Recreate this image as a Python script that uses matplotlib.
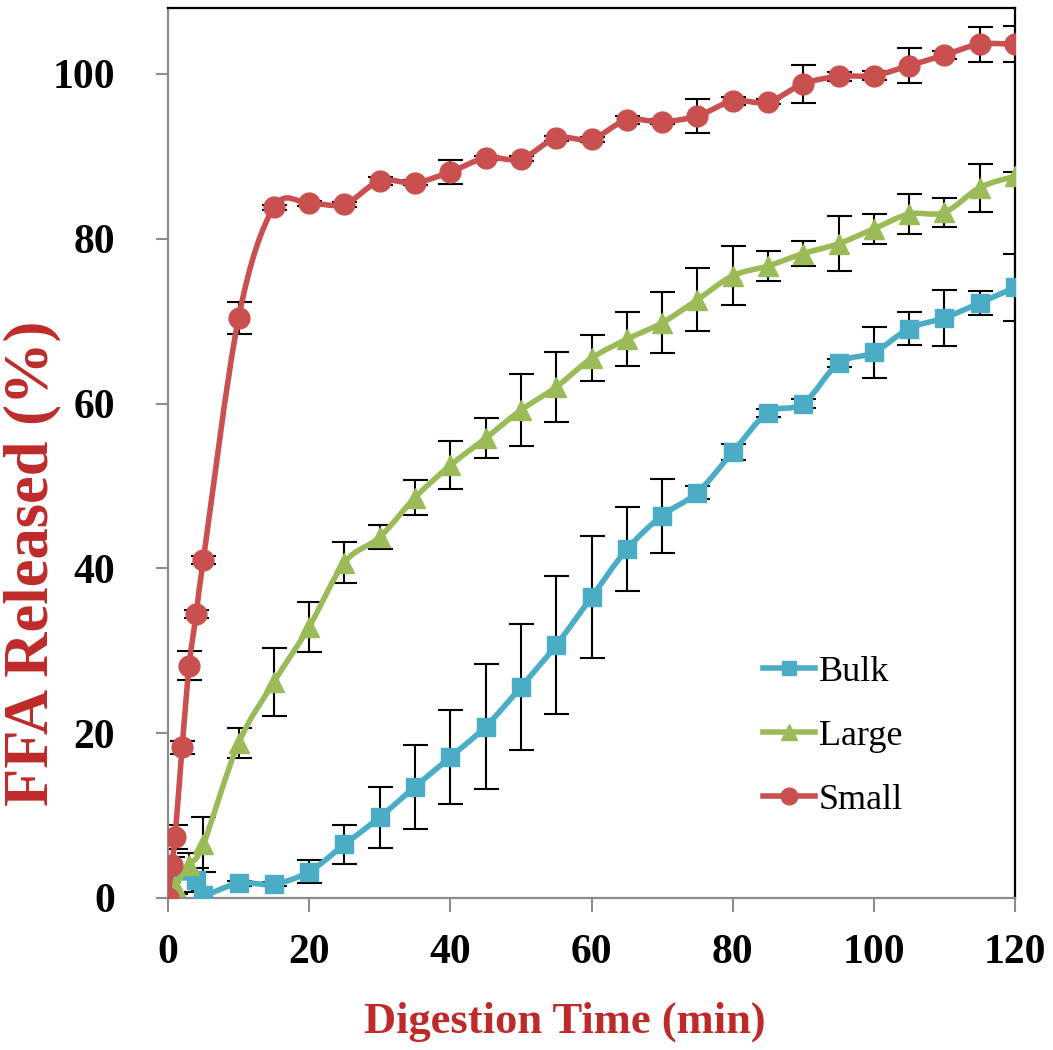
import numpy as np
import matplotlib
matplotlib.use("Agg")
import matplotlib.pyplot as plt
from matplotlib.path import Path
from matplotlib.patches import PathPatch
from matplotlib.lines import Line2D

# digestion times (min)
t_small = [0, 0.5, 1, 2, 3, 4, 5, 10, 15, 20, 25, 30, 35, 40, 45, 50, 55, 60,
           65, 70, 75, 80, 85, 90, 95, 100, 105, 110, 115, 120]
t_large = [0, 1, 3, 5, 10, 15, 20, 25, 30, 35, 40, 45, 50, 55, 60,
           65, 70, 75, 80, 85, 90, 95, 100, 105, 110, 115, 120]
t_bulk = [0, 4, 5, 10, 15, 20, 25, 30, 35, 40, 45, 50, 55, 60,
          65, 70, 75, 80, 85, 90, 95, 100, 105, 110, 115, 120]

# FFA released (%)
small = [0, 4, 7.4, 18.3, 28.2, 34.5, 41, 70.4, 83.8, 84.3, 84.2, 87, 86.8, 88.1,
         89.8, 89.7, 92.2, 92.1, 94.4, 94.2, 94.9, 96.7, 96.6, 98.8, 99.7, 99.8,
         101, 102.3, 103.6, 103.6]
small_err = [0, 1, 1.5, 0.8, 1.8, 0.5, 0.5, 1.9, 0.3, 0.3, 0.3, 0.5, 0.3, 1.5,
             0.3, 0.3, 0.3, 0.3, 0.5, 0.3, 2.1, 0.5, 0.3, 2.3, 0.5, 0.5,
             2.1, 0.5, 2.1, 2.2]
large = [0, 1.5, 4, 6.5, 18.8, 26.2, 32.9, 40.7, 43.8, 48.6, 52.5, 55.8, 59.2, 62,
         65.5, 67.8, 69.8, 72.6, 75.5, 76.7, 78.2, 79.4, 81.2, 83, 83.2, 86.2, 87.6]
large_err = [0, 1, 1.5, 3.3, 1.8, 4.1, 3, 2.5, 1.5, 2.1, 2.9, 2.4, 4.4, 4.2,
             2.8, 3.3, 3.7, 3.8, 3.6, 1.8, 1.5, 3.3, 1.8, 2.4, 1.8, 2.9, 0.5]
bulk = [2.5, 2.2, 0.4, 1.8, 1.7, 3.2, 6.5, 9.8, 13.5, 17.1, 20.8, 25.6, 30.7, 36.5,
        42.3, 46.4, 49.2, 54.1, 58.9, 60, 64.9, 66.2, 69.1, 70.4, 72.2, 74.1]
bulk_err = [0.5, 1.5, 0.5, 0.3, 0.3, 1.4, 2.4, 3.7, 5.1, 5.7, 7.6, 7.6, 8.4, 7.4,
            5.1, 4.5, 0.8, 1.0, 0.5, 0.5, 0.5, 3.1, 2.0, 3.4, 1.4, 4.1]

RED = "#C9504F"
GREEN = "#9BBB59"
BLUE = "#4BACC6"
LABEL_RED = "#BE2A2A"
GRAY = "#8C8C8C"


def smooth_path(x, y):
    # Excel-style smoothed line (Catmull-Rom as cubic Bezier)
    pts = np.column_stack([x, y]).astype(float)
    n = len(pts)
    verts = [pts[0]]
    codes = [Path.MOVETO]
    for i in range(n - 1):
        p0 = pts[max(i - 1, 0)]
        p1 = pts[i]
        p2 = pts[i + 1]
        p3 = pts[min(i + 2, n - 1)]
        verts += [p1 + (p2 - p0) / 6, p2 - (p3 - p1) / 6, p2]
        codes += [Path.CURVE4] * 3
    return Path(verts, codes)


plt.rcParams["font.family"] = ["Liberation Serif", "DejaVu Serif"]

fig = plt.figure(figsize=(10.53, 10.50), dpi=100)
ax = fig.add_axes([168 / 1053, 1 - 898 / 1050, 847 / 1053, 890 / 1050])

series = [
    ("Bulk", t_bulk, bulk, bulk_err, BLUE, "s", 13),
    ("Large", t_large, large, large_err, GREEN, "^", 15),
    ("Small", t_small, small, small_err, RED, "o", 15),
]

handles = []
for k, (name, t, v, e, c, m, ms) in enumerate(series):
    ax.errorbar(t, v, yerr=e, fmt="none", ecolor="black", elinewidth=1.5,
                capsize=9, capthick=1.5, zorder=2 + k * 0.1)
    patch = PathPatch(smooth_path(t, v), facecolor="none", edgecolor=c, lw=4,
                      capstyle="round", joinstyle="round", zorder=3 + k)
    ax.add_patch(patch)
    ax.plot(t, v, linestyle="none", marker=m, ms=ms, color=c, mec=c,
            zorder=3.5 + k)
    handles.append(Line2D([], [], color=c, lw=4, marker=m, ms=ms * 0.8,
                          label=name))

ax.set_xlim(0, 120)
ax.set_ylim(0, 108)
ax.set_xticks(np.arange(0, 121, 20))
ax.set_yticks(np.arange(0, 101, 20))

for s in ["left", "bottom"]:
    ax.spines[s].set_color(GRAY)
    ax.spines[s].set_linewidth(1.6)
for s in ["top", "right"]:
    ax.spines[s].set_color("black")
    ax.spines[s].set_linewidth(1.6)

ax.tick_params(axis="y", direction="out", length=9, width=1.5, color=GRAY,
               pad=29, labelsize=30)
ax.tick_params(axis="x", direction="out", length=10, width=1.5, color=GRAY,
               pad=16, labelsize=30)
for lab in ax.get_xticklabels() + ax.get_yticklabels():
    lab.set_fontweight("bold")

ax.set_xlabel("Digestion Time (min)", fontsize=32, fontweight="bold",
              color=LABEL_RED, va="center")
ax.xaxis.set_label_coords(0.469, -0.139)
ax.set_ylabel("FFA Released (%)", fontsize=45, fontweight="bold",
              color=LABEL_RED, va="center", ha="center")
ax.yaxis.set_label_coords(-0.16, 0.376)

ax.legend(handles=handles, loc="center left", bbox_to_anchor=(0.702, 0.182),
          frameon=False, fontsize=26, handlelength=1.45, handletextpad=0.1,
          labelspacing=0.85, borderpad=0, borderaxespad=0)

fig.savefig("out.png", dpi=100)
